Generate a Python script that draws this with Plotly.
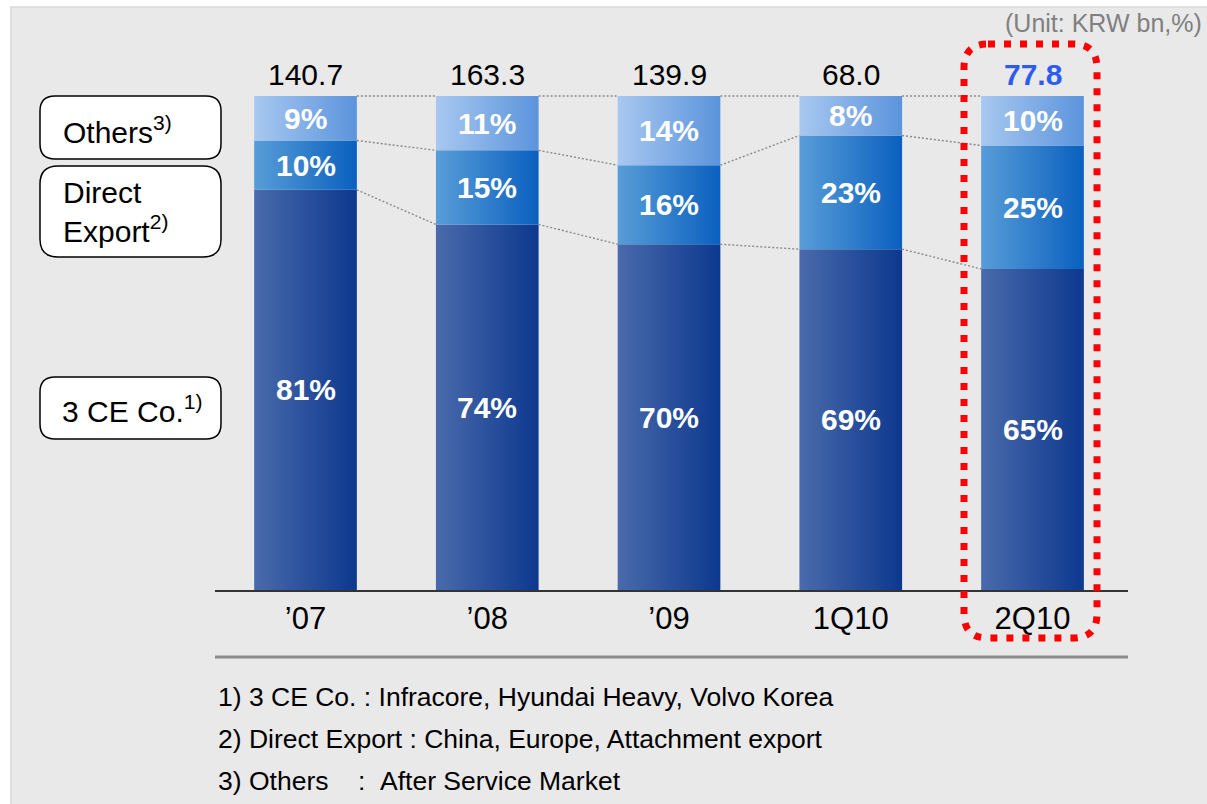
import plotly.graph_objects as go

# ---- data -------------------------------------------------------------
periods = ["\u201907", "\u201908", "\u201909", "1Q10", "2Q10"]
totals = [140.7, 163.3, 139.9, 68.0, 77.8]          # KRW bn
share_3ce = [81, 74, 70, 69, 65]                     # %
share_direct = [10, 15, 16, 23, 25]                  # %
share_others = [9, 11, 14, 8, 10]                    # %

footnotes = [
    "1) 3 CE Co. : Infracore, Hyundai Heavy, Volvo Korea",
    "2) Direct Export : China, Europe, Attachment export",
    "3) Others\u00a0\u00a0\u00a0\u00a0:\u00a0\u00a0After Service Market",
]
unit_label = "(Unit: KRW bn,%)"

# ---- page geometry (pixels) ------------------------------------------
W, H = 1207, 804
FONT = "Liberation Sans, Arial, sans-serif"
BAR_W = 0.565


def px(x):
    return x / W


def py(y):
    return 1 - y / H


def rounded_path(x0, y0, x1, y1, r):
    pts = [
        ("M", [(x0 + r, y0)]),
        ("L", [(x1 - r, y0)]),
        ("Q", [(x1, y0), (x1, y0 + r)]),
        ("L", [(x1, y1 - r)]),
        ("Q", [(x1, y1), (x1 - r, y1)]),
        ("L", [(x0 + r, y1)]),
        ("Q", [(x0, y1), (x0, y1 - r)]),
        ("L", [(x0, y0 + r)]),
        ("Q", [(x0, y0), (x0 + r, y0)]),
    ]
    parts = []
    for cmd, coords in pts:
        parts.append(cmd + " " + " ".join(f"{px(a):.5f},{py(b):.5f}" for a, b in coords))
    return " ".join(parts) + " Z"


series = [
    ("3 CE Co.", share_3ce, ["#4a6aab", "#0c388e"]),
    ("Direct Export", share_direct, ["#589dd8", "#0a60bf"]),
    ("Others", share_others, ["#a8c8f0", "#5b94dc"]),
]

fig = go.Figure()
annotations = []

# stacked segments with a left-to-right gradient
bottoms = [0.0] * len(periods)
bounds = [[] for _ in periods]
for name, vals, cols in series:
    for i, v in enumerate(vals):
        b = bottoms[i]
        t = b + v
        x0, x1 = i - BAR_W / 2, i + BAR_W / 2
        fig.add_trace(go.Scatter(
            x=[x0, x1, x1, x0, x0], y=[b, b, t, t, b],
            mode="lines", fill="toself",
            line=dict(width=0, color="rgba(0,0,0,0)"),
            fillcolor=cols[0],
            fillgradient=dict(type="horizontal",
                              colorscale=[[0, cols[0]], [1, cols[1]]]),
            name=name, hoverinfo="skip", showlegend=False,
        ))
        annotations.append(dict(
            x=i, y=(b + t) / 2, xref="x", yref="y",
            text=f"<b>{v}%</b>", showarrow=False,
            font=dict(family=FONT, size=30, color="white"),
        ))
        bottoms[i] = t
        bounds[i].append(b)
for i in range(len(periods)):
    bounds[i].append(bottoms[i])

# dotted connectors between neighbouring bars
for k in range(1, 4):
    xs, ys = [], []
    for i in range(len(periods) - 1):
        xs += [i + BAR_W / 2, i + 1 - BAR_W / 2, None]
        ys += [bounds[i][k], bounds[i + 1][k], None]
    fig.add_trace(go.Scatter(
        x=xs, y=ys, mode="lines",
        line=dict(color="#8a8a8a", width=1.4, dash="2px,2px"),
        hoverinfo="skip", showlegend=False,
    ))

# totals above bars
for i, tot in enumerate(totals):
    last = i == len(totals) - 1
    annotations.append(dict(
        x=i, y=bottoms[i], xref="x", yref="y", yanchor="bottom", yshift=3,
        text=(f"<b>{tot:.1f}</b>" if last else f"{tot:.1f}"), showarrow=False,
        font=dict(family=FONT, size=30, color="#2e5cf0" if last else "black"),
    ))

# segment labels on the left
annotations += [
    dict(x=px(61), y=py(130), xref="paper", yref="paper", xanchor="left",
         yanchor="middle", text="Others<sup>3)</sup>", showarrow=False,
         font=dict(family=FONT, size=30, color="black")),
    dict(x=px(61), y=py(212), xref="paper", yref="paper", xanchor="left",
         yanchor="middle", text="Direct<br>Export<sup>2)</sup>", showarrow=False,
         align="left", font=dict(family=FONT, size=30, color="black")),
    dict(x=px(60), y=py(409), xref="paper", yref="paper", xanchor="left",
         yanchor="middle", text="3 CE Co.<sup>1)</sup>", showarrow=False,
         font=dict(family=FONT, size=30, color="black")),
]

# unit and footnotes
annotations.append(dict(
    x=px(1204), y=py(23), xref="paper", yref="paper", xanchor="right",
    yanchor="middle", text=unit_label, showarrow=False,
    font=dict(family=FONT, size=25, color="#808080")))
for j, note in enumerate(footnotes):
    annotations.append(dict(
        x=px(216), y=py(697 + 42 * j), xref="paper", yref="paper",
        xanchor="left", yanchor="middle", text=note, showarrow=False,
        font=dict(family=FONT, size=26.5, color="black")))

shapes = [
    # grey panel
    dict(type="rect", xref="paper", yref="paper", x0=px(11), x1=px(1210),
         y0=py(807), y1=py(7), fillcolor="#e9e9e9",
         line=dict(color="#d8d8d8", width=1.5), layer="below"),
    # separator rule above the notes
    dict(type="line", xref="paper", yref="paper", x0=px(215), x1=px(1128),
         y0=py(657), y1=py(657), line=dict(color="#8a8a8a", width=3)),
    # label boxes
    dict(type="path", xref="paper", yref="paper",
         path=rounded_path(40, 96, 221, 159, 15), fillcolor="white",
         line=dict(color="black", width=1.5), layer="below"),
    dict(type="path", xref="paper", yref="paper",
         path=rounded_path(40, 166, 221, 257, 18), fillcolor="white",
         line=dict(color="black", width=1.5), layer="below"),
    dict(type="path", xref="paper", yref="paper",
         path=rounded_path(40, 377, 221, 439, 15), fillcolor="white",
         line=dict(color="black", width=1.5), layer="below"),
    # highlight around the latest quarter
    dict(type="path", xref="paper", yref="paper",
         path=rounded_path(964, 44, 1097, 638, 24),
         line=dict(color="#ff0000", width=7, dash="7px,9px"),
         fillcolor="rgba(0,0,0,0)"),
]

fig.update_layout(
    width=W, height=H,
    margin=dict(l=0, r=0, t=0, b=0),
    paper_bgcolor="white", plot_bgcolor="rgba(0,0,0,0)",
    showlegend=False,
    xaxis=dict(domain=[px(215), px(1128)], range=[-0.498, 4.5254],
               tickvals=list(range(len(periods))), ticktext=periods,
               tickfont=dict(family=FONT, size=31, color="black"),
               ticks="", showline=True, linecolor="#333333", linewidth=1.5,
               showgrid=False, zeroline=False, fixedrange=True),
    yaxis=dict(domain=[py(590), py(40)], range=[0, 111.34], visible=False,
               fixedrange=True),
    annotations=annotations,
    shapes=shapes,
)

fig.write_html("out.html")
